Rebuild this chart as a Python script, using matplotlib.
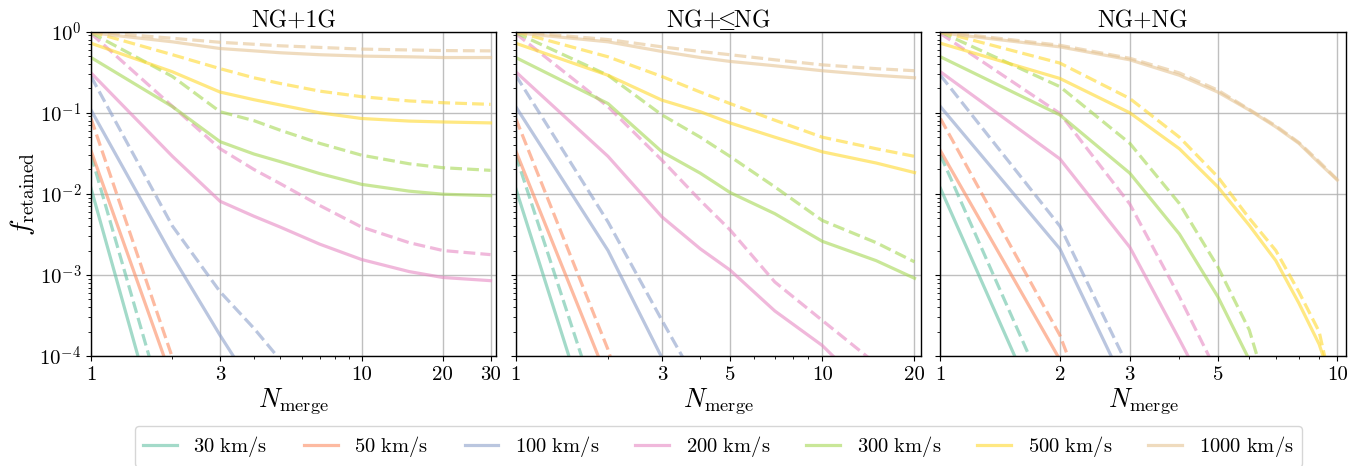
import numpy as np
import matplotlib
matplotlib.use("Agg")
from matplotlib import pyplot as plt
from matplotlib.ticker import FixedLocator, NullFormatter, LogLocator

plt.rcParams['font.family'] = 'serif'
plt.rcParams['font.serif'] = ['cmr10', 'DejaVu Serif']
plt.rcParams['mathtext.fontset'] = 'cm'
plt.rcParams['axes.formatter.use_mathtext'] = True

nan = np.nan

velocities = [30, 50, 100, 200, 300, 500, 1000]
colors = ['#66c2a5', '#fc8d62', '#8da0cb', '#e78ac3', '#a6d854', '#ffd92f', '#e5c494']

titles = [r'NG+1G', r'NG+$\!\!\leq\!\!$NG', r'NG+NG']

# NG+1G
n_1g = [1, 2, 3, 4, 5, 7, 10, 15, 20, 30]
solid_1g = [
    [0.0117, 3e-6, nan, nan, nan, nan, nan, nan, nan, nan],
    [0.034, 5e-5, nan, nan, nan, nan, nan, nan, nan, nan],
    [0.108, 0.0017, 1.8e-4, 4e-5, nan, nan, nan, nan, nan, nan],
    [0.31, 0.029, 0.0081, 0.0053, 0.0039, 0.0024, 0.00155, 0.0011, 0.00093, 0.00085],
    [0.48, 0.119, 0.044, 0.031, 0.025, 0.0178, 0.0131, 0.0108, 0.0099, 0.0095],
    [0.72, 0.32, 0.18, 0.145, 0.125, 0.1, 0.085, 0.079, 0.077, 0.075],
    [0.97, 0.75, 0.62, 0.58, 0.55, 0.52, 0.50, 0.49, 0.48, 0.48],
]
dashed_1g = [
    [0.030, 1e-5, nan, nan, nan, nan, nan, nan, nan, nan],
    [0.085, 9.5e-5, nan, nan, nan, nan, nan, nan, nan, nan],
    [0.28, 0.004, 6.2e-4, 2.2e-4, 9e-5, nan, nan, nan, nan, nan],
    [0.95, 0.12, 0.036, 0.02, 0.0134, 0.0072, 0.0039, 0.0025, 0.002, 0.00178],
    [0.97, 0.28, 0.103, 0.08, 0.061, 0.042, 0.030, 0.0235, 0.021, 0.0195],
    [1.0, 0.52, 0.35, 0.27, 0.23, 0.185, 0.158, 0.14, 0.133, 0.127],
    [1.0, 0.83, 0.74, 0.70, 0.67, 0.64, 0.61, 0.595, 0.585, 0.58],
]

# NG+<=NG
n_le = [1, 2, 3, 4, 5, 7, 10, 15, 20]
solid_le = [
    [0.0117, 3e-6, nan, nan, nan, nan, nan, nan, nan],
    [0.034, 5e-5, nan, nan, nan, nan, nan, nan, nan],
    [0.119, 0.002, 9.5e-5, nan, nan, nan, nan, nan, nan],
    [0.32, 0.029, 0.0052, 0.0021, 0.00115, 3.6e-4, 1.35e-4, 3e-5, nan],
    [0.48, 0.13, 0.033, 0.018, 0.0104, 0.0057, 0.0026, 0.0015, 0.00091],
    [0.72, 0.29, 0.143, 0.103, 0.075, 0.05, 0.033, 0.024, 0.0183],
    [0.97, 0.75, 0.57, 0.48, 0.43, 0.38, 0.33, 0.29, 0.27],
]
dashed_le = [
    [0.030, 1e-5, nan, nan, nan, nan, nan, nan, nan],
    [0.085, 1.2e-4, 1e-6, nan, nan, nan, nan, nan, nan],
    [0.29, 0.0045, 2.75e-4, 4e-5, nan, nan, nan, nan, nan],
    [0.95, 0.119, 0.026, 0.0083, 0.0036, 8.2e-4, 2.75e-4, 8e-5, nan],
    [0.97, 0.29, 0.094, 0.05, 0.029, 0.0122, 0.0047, 0.0025, 0.00145],
    [1.0, 0.49, 0.28, 0.18, 0.13, 0.081, 0.05, 0.036, 0.029],
    [1.0, 0.8, 0.65, 0.57, 0.52, 0.45, 0.39, 0.35, 0.33],
]

# NG+NG
n_ng = [1, 2, 3, 4, 5, 6, 7, 8, 9, 10]
solid_ng = [
    [0.0117, 5.5e-6, nan, nan, nan, nan, nan, nan, nan, nan],
    [0.034, 9e-5, nan, nan, nan, nan, nan, nan, nan, nan],
    [0.119, 0.0021, 3.3e-5, nan, nan, nan, nan, nan, nan, nan],
    [0.32, 0.027, 0.0022, 1.6e-4, 2e-5, nan, nan, nan, nan, nan],
    [0.49, 0.094, 0.018, 0.0032, 5.4e-4, 9e-5, nan, nan, nan, nan],
    [0.72, 0.265, 0.10, 0.036, 0.0122, 0.0041, 0.0015, 4.5e-4, 1.4e-4, 3e-5],
    [0.97, 0.65, 0.45, 0.29, 0.18, 0.108, 0.067, 0.042, 0.024, 0.0148],
]
dashed_ng = [
    [0.030, 1.4e-5, nan, nan, nan, nan, nan, nan, nan, nan],
    [0.085, 1.8e-4, 1e-6, nan, nan, nan, nan, nan, nan, nan],
    [0.29, 0.004, 6.7e-5, nan, nan, nan, nan, nan, nan, nan],
    [0.95, 0.098, 0.0075, 5.4e-4, 6e-5, nan, nan, nan, nan, nan],
    [0.99, 0.21, 0.042, 0.0076, 0.00126, 2.1e-4, 1.7e-5, nan, nan, nan],
    [1.0, 0.41, 0.15, 0.05, 0.0162, 0.005, 0.002, 6.2e-4, 2e-4, 2e-5],
    [1.0, 0.68, 0.47, 0.31, 0.19, 0.11, 0.069, 0.043, 0.025, 0.015],
]

panels = [
    (n_1g, solid_1g, dashed_1g, [1, 3, 10, 20, 30]),
    (n_le, solid_le, dashed_le, [1, 3, 5, 10, 20]),
    (n_ng, solid_ng, dashed_ng, [1, 2, 3, 5, 10]),
]

fig, axes = plt.subplots(1, 3, figsize=(13.63, 4.66), dpi=100, sharey=True)
fig.subplots_adjust(left=0.0668, right=0.9873, top=0.932, bottom=0.236, wspace=0.048)

for ax, (n, solid, dashed, xticks), title in zip(axes, panels, titles):
    for i, v in enumerate(velocities):
        ax.plot(n, solid[i], color=colors[i], lw=2.3, alpha=0.6,
                label=r'$%d\ \mathrm{km/s}$' % v)
        ax.plot(n, dashed[i], color=colors[i], lw=2.3, alpha=0.6, ls='--')
    ax.set_xscale('log')
    ax.set_yscale('log')
    ax.set_xlim(1, max(n) * 1.05)
    ax.set_ylim(1e-4, 1)
    ax.xaxis.set_major_locator(FixedLocator(xticks))
    ax.set_xticklabels([str(t) for t in xticks])
    ax.xaxis.set_minor_locator(LogLocator(base=10, subs=np.arange(2, 10)))
    ax.xaxis.set_minor_formatter(NullFormatter())
    ax.grid(True, which='major', color='#b0b0b0', lw=1.0, alpha=0.8)
    ax.tick_params(labelsize=15)
    ax.set_title(title, fontsize=17, pad=3)
    ax.set_xlabel(r'$N_{\rm merge}$', fontsize=19, labelpad=2)
    for s in ax.spines.values():
        s.set_linewidth(1.0)

axes[0].set_yticks([1e-4, 1e-3, 1e-2, 1e-1, 1])
axes[0].set_yticklabels([r'$10^{-4}$', r'$10^{-3}$', r'$10^{-2}$', r'$10^{-1}$', r'$10^{0}$'])
axes[0].set_ylabel(r'$f_{\rm retained}$', fontsize=20, labelpad=2)

handles, labels = axes[0].get_legend_handles_labels()
fig.legend(handles, labels, loc='upper center', bbox_to_anchor=(0.527, 0.0858),
           borderaxespad=0, ncol=7, fontsize=14.8, frameon=True,
           handlelength=1.65, handletextpad=0.8, columnspacing=1.76)

fig.savefig('out.png', dpi=100)
